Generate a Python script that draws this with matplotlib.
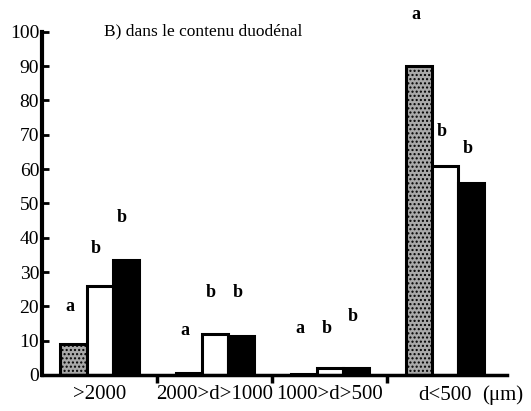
import matplotlib
matplotlib.use("Agg")
import matplotlib.pyplot as plt
import numpy as np

# Données (%)
categories = [">2000", "2000>d>1000", "1000>d>500", "d<500"]
unit_label = "(\u03bcm)"
serie_grise = [9, 0.5, 0.3, 90]
serie_blanche = [26, 12, 2, 61]
serie_noire = [33.5, 11.5, 2, 56]

# Lettres de significativité et leur hauteur
lettres = [["a", "b", "b"], ["a", "b", "b"], ["a", "b", "b"], ["a", "b", "b"]]
hauteur_lettres = [[20, 37, 46], [13, 24, 24], [13.5, 13.5, 17], [105, 71, 66]]

titre = "B) dans le contenu duod\u00e9nal"
yticks = list(range(0, 101, 10))

plt.rcParams['font.family'] = ['Liberation Serif', 'DejaVu Serif']

fig = plt.figure(figsize=(5.31, 4.11), dpi=100)
ax = fig.add_axes([0.079, 0.0876, 0.876, 0.835])

x = np.arange(len(categories))
w = 0.226
couleurs = ['#a9a9a9', 'white', 'black']
series = [serie_grise, serie_blanche, serie_noire]
for i, (vals, c) in enumerate(zip(series, couleurs)):
    ax.bar(x + (i - 1) * w, vals, width=w, color=c, edgecolor='black',
           linewidth=2.2, hatch='....' if i == 0 else None, zorder=2)

# Lettres au-dessus des barres
for g in range(len(categories)):
    for i in range(3):
        ax.text(x[g] + (i - 1) * w - 0.03, hauteur_lettres[g][i], lettres[g][i],
                ha='center', va='center', fontsize=13, fontweight='bold',
                clip_on=False)

ax.text(0.9, 100, titre, ha='center', va='center', fontsize=12.5)

ax.set_xlim(-0.5, 3.54)
ax.set_ylim(0, 100)
ax.spines['top'].set_visible(False)
ax.spines['right'].set_visible(False)
ax.spines['left'].set_linewidth(3)
ax.spines['bottom'].set_linewidth(2.5)

ax.set_yticks(yticks)
ax.set_yticklabels([str(t) for t in yticks], fontsize=14)
ax.tick_params(axis='y', direction='in', length=5, width=2, pad=2)

# Graduations entre les classes, étiquettes au centre
ax.set_xticks([0.5, 1.5, 2.5])
ax.set_xticklabels([])
ax.tick_params(axis='x', which='major', direction='out', length=6, width=2.5)
ax.set_xticks(x[:3], minor=True)
ax.set_xticklabels(categories[:3], minor=True, fontsize=15)
ax.tick_params(axis='x', which='minor', length=0, pad=7)
ax.text(x[3], -6, categories[3], ha='center', va='center', fontsize=15)
ax.text(x[3] + 0.5, -6, unit_label, ha='center', va='center', fontsize=15,
        clip_on=False)

fig.savefig("out.png", dpi=100)
